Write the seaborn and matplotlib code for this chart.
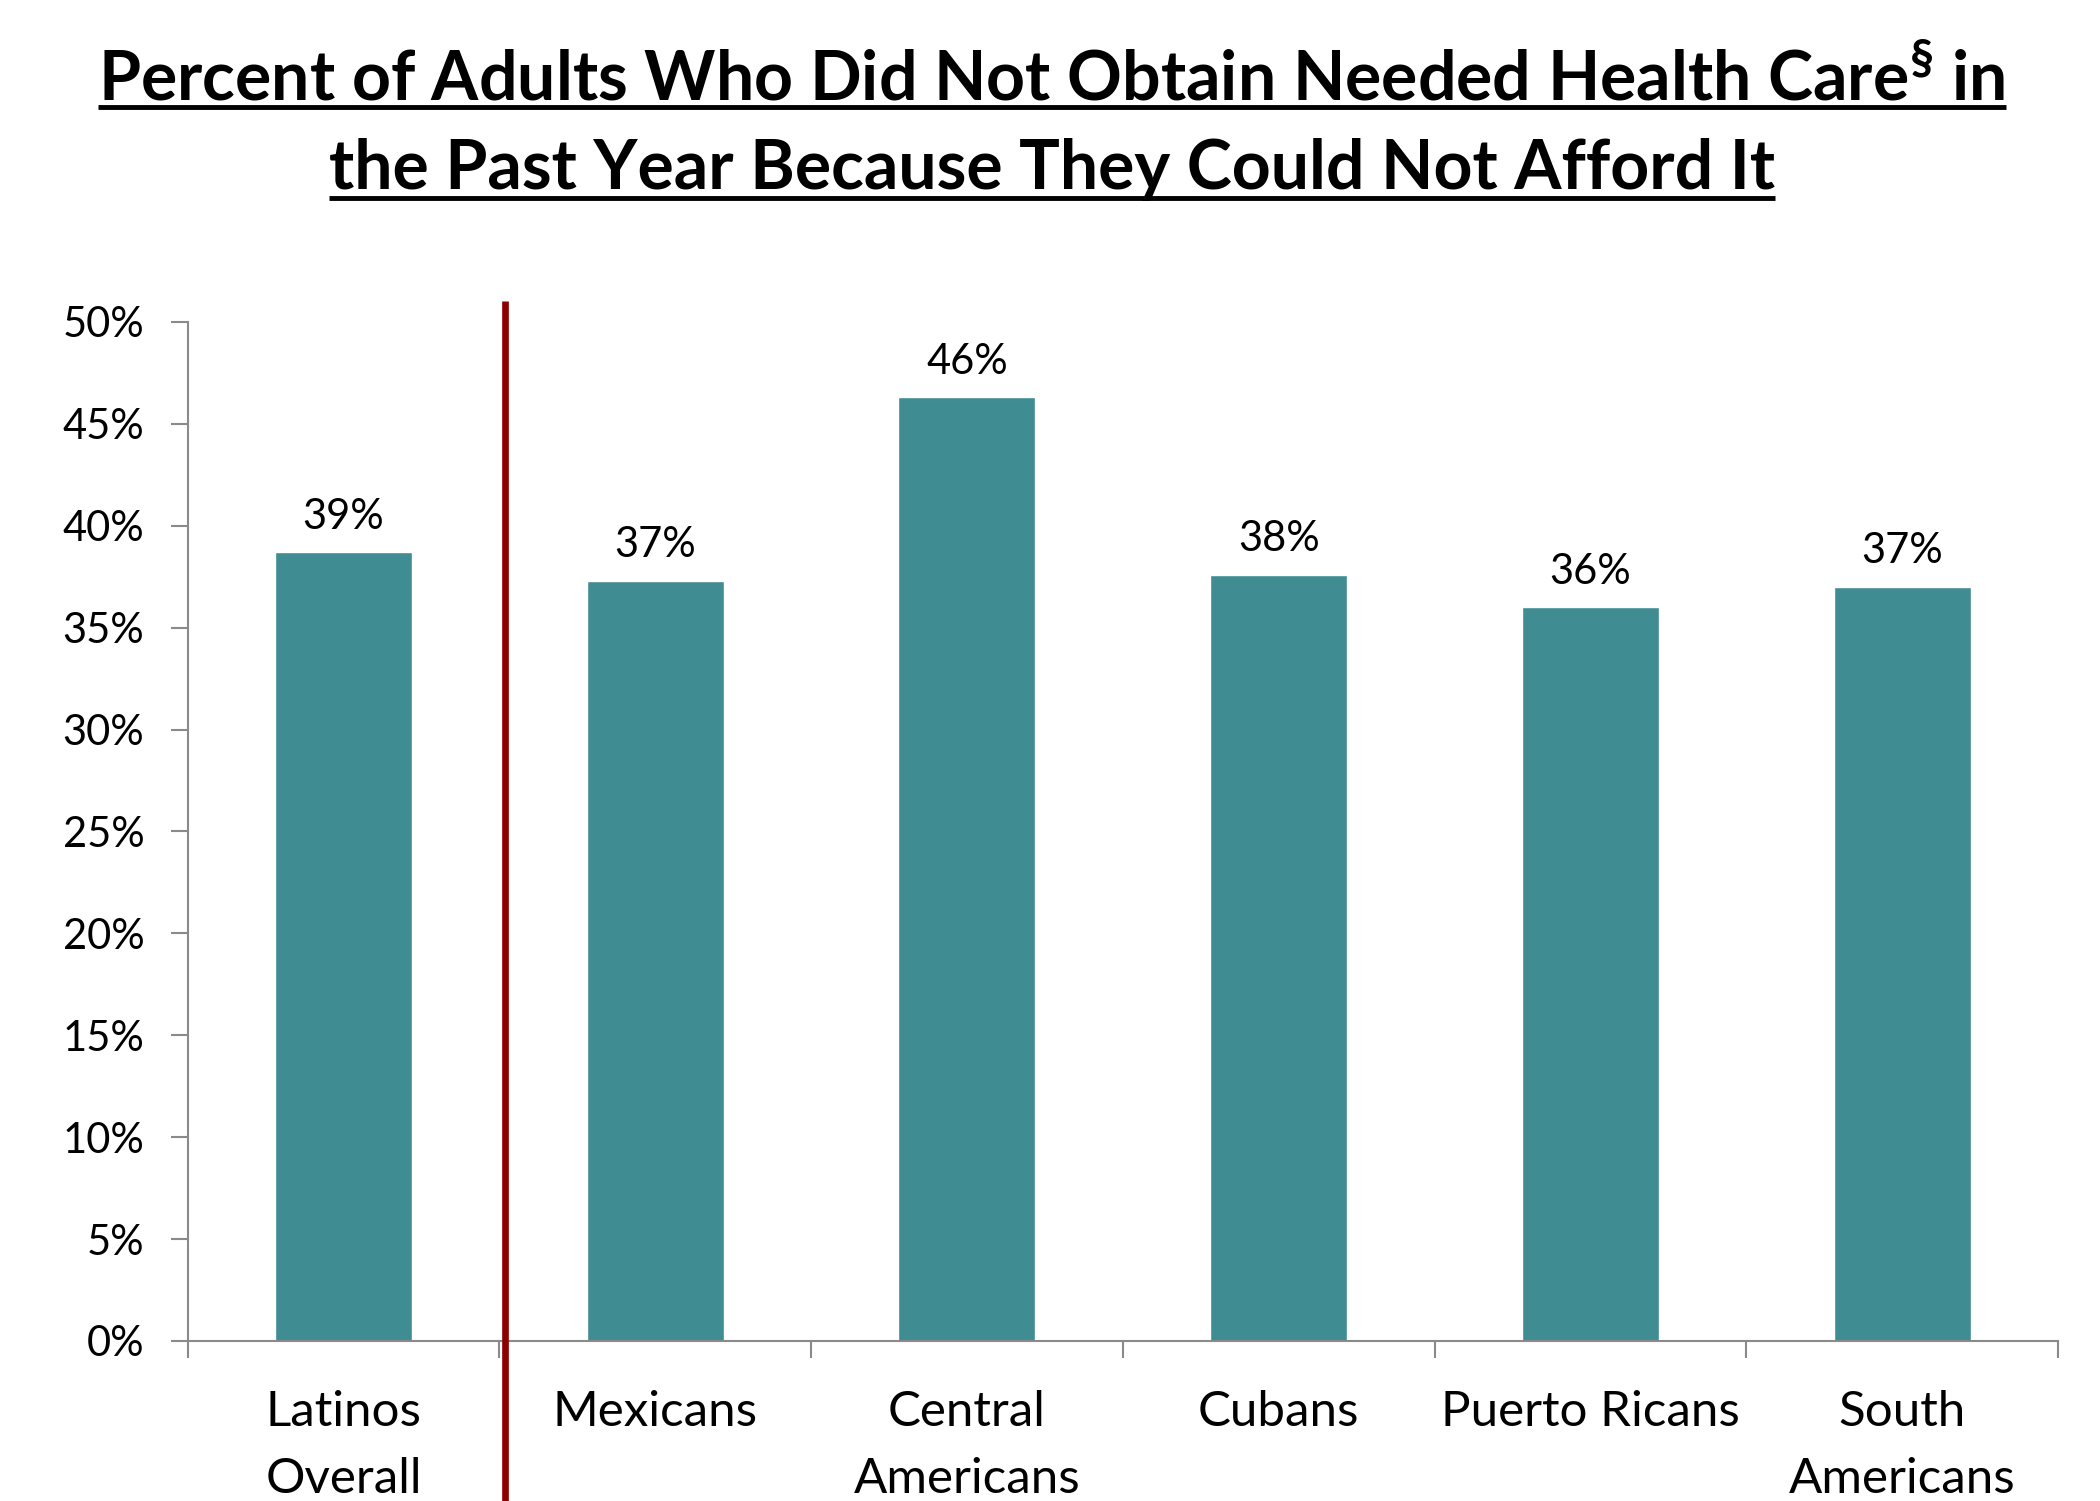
import matplotlib
matplotlib.use("Agg")
import matplotlib.pyplot as plt
import matplotlib.transforms as mtransforms
from matplotlib.ticker import FuncFormatter
import seaborn as sns
import pandas as pd

# Share of adults who skipped needed care because of cost, by origin group
groups = ["Latinos\nOverall", "Mexicans", "Central\nAmericans", "Cubans",
          "Puerto Ricans", "South\nAmericans"]
pct_unable = [38.7, 37.3, 46.3, 37.6, 36.0, 37.0]
y_ticks = [0, 5, 10, 15, 20, 25, 30, 35, 40, 45, 50]

title_line1 = "Percent of Adults Who Did Not Obtain Needed Health Care$^{\\mathbf{§}}$ in"
title_line2 = "the Past Year Because They Could Not Afford It"

sns.set_style("white")
plt.rcParams["font.family"] = ["Lato", "DejaVu Sans"]
plt.rcParams["mathtext.fontset"] = "custom"
plt.rcParams["mathtext.rm"] = "Lato"
plt.rcParams["mathtext.bf"] = "Lato:bold"
plt.rcParams["text.color"] = "black"
plt.rcParams["xtick.color"] = "black"
plt.rcParams["ytick.color"] = "black"

BAR = "#3F8C93"
AXIS = "#8A8A8A"
DIVIDER = "#8B0000"

df = pd.DataFrame({"group": groups, "pct": pct_unable})

fig = plt.figure(figsize=(21, 15.01), dpi=100)
ax = fig.add_axes([0.0893, 0.1066, 0.9800 - 0.0893, 0.7855 - 0.1066])
sns.barplot(data=df, x="group", y="pct", color=BAR, saturation=1,
            width=0.44, ax=ax)

ax.set_xlim(-0.5, len(groups) - 0.5)
ax.set_ylim(0, 50)
ax.set_yticks(y_ticks)
ax.yaxis.set_major_formatter(FuncFormatter(lambda v, p: f"{v:.0f}%"))
ax.set_xlabel("")
ax.set_ylabel("")

# category boundaries carry the tick marks, labels sit at bar centres
ax.set_xticks([i - 0.5 for i in range(len(groups) + 1)], minor=True)
ax.tick_params(axis="x", which="major", bottom=True, length=0, pad=35.5,
               labelsize=35.5, labelcolor="black")
ax.tick_params(axis="x", which="minor", bottom=True, direction="out",
               length=12, width=1.5, color=AXIS)
ax.tick_params(axis="y", which="major", left=True, direction="out",
               length=12, width=1.5, color=AXIS, pad=19, labelsize=30,
               labelcolor="black")
for lbl in ax.get_xticklabels():
    lbl.set_linespacing(1.62)

for side in ("top", "right"):
    ax.spines[side].set_visible(False)
for side in ("left", "bottom"):
    ax.spines[side].set_color(AXIS)
    ax.spines[side].set_linewidth(1.5)

ax.bar_label(ax.containers[0], labels=[f"{v:.0f}%" for v in pct_unable],
             padding=12, fontsize=30, color="black")

# divider between the overall figure and the subgroups
trans = mtransforms.blended_transform_factory(ax.transData, fig.transFigure)
ax.plot([0.517, 0.517], [0.0, 0.7995], transform=trans, color=DIVIDER,
        lw=4.8, clip_on=False, solid_capstyle="butt", zorder=5)

# underlined two-line title
t1 = fig.text(0.501, 0.933, title_line1, ha="center", va="baseline",
              fontsize=49, fontweight="bold", color="black")
t2 = fig.text(0.501, 0.874, title_line2, ha="center", va="baseline",
              fontsize=49, fontweight="bold", color="black")
fig.canvas.draw()
renderer = fig.canvas.get_renderer()
W, H = fig.bbox.width, fig.bbox.height
for t, uy in ((t1, 0.9287), (t2, 0.868)):
    bb = t.get_window_extent(renderer)
    fig.add_artist(plt.Line2D([bb.x0 / W, bb.x1 / W], [uy, uy],
                              transform=fig.transFigure, color="black",
                              lw=3.5, solid_capstyle="butt"))

fig.savefig("out.png", dpi=100)
